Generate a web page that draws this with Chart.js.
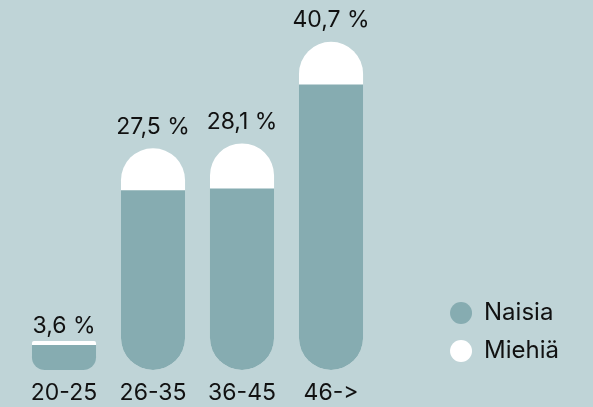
<!DOCTYPE html>
<html>
<head>
<meta charset="utf-8">
<script src="https://cdn.jsdelivr.net/npm/chart.js@4/dist/chart.umd.min.js"></script>
<style>
  html, body { margin: 0; padding: 0; background: #bfd4d7; }
  #wrap { width: 593px; height: 407px; position: relative; }
</style>
</head>
<body>
<div id="wrap"><canvas id="c"></canvas></div>
<script>
const categories = ['20-25', '26-35', '36-45', '46->'];
const naisia = [3.1, 22.3, 22.5, 35.4];
const miehia = [0.5, 5.2, 5.6, 5.3];
const seriesNames = ['Naisia', 'Miehiä'];

// total height of each bar (Naisia + Miehiä), white bar drawn behind the teal one
const totals = naisia.map((v, i) => v + miehia[i]);

const TEAL = '#86acb1';
const TEXT = '#111111';
const FONT = 'Inter';

const totalLabels = {
  id: 'totalLabels',
  afterDatasetsDraw(chart) {
    const ctx = chart.ctx;
    const top = chart.getDatasetMeta(1);
    ctx.save();
    ctx.font = `400 23px ${FONT}`;
    ctx.fillStyle = TEXT;
    ctx.textAlign = 'center';
    ctx.textBaseline = 'middle';
    top.data.forEach((bar, i) => {
      const h = bar.base - bar.y;
      const off = h < 40 ? 14.5 : 21.5;
      ctx.fillText(totals[i].toFixed(1).replace('.', ',') + ' %', bar.x, bar.y - off);
    });
    ctx.restore();
  }
};

new Chart(document.getElementById('c'), {
  type: 'bar',
  data: {
    labels: categories,
    datasets: [
      {
        label: seriesNames[0],
        data: naisia,
        order: 0,
        backgroundColor: TEAL,
        borderWidth: 0,
        borderSkipped: false,
        borderRadius: { topLeft: 0, topRight: 0, bottomLeft: 32, bottomRight: 32 },
        pointStyle: 'circle'
      },
      {
        label: seriesNames[1],
        data: totals,
        order: 1,
        backgroundColor: '#ffffff',
        borderWidth: 0,
        borderSkipped: false,
        borderRadius: (c) => {
          const r = totals[c.dataIndex] > 10 ? 32 : 2;
          return { topLeft: r, topRight: r, bottomLeft: 32, bottomRight: 32 };
        },
        pointStyle: 'circle'
      }
    ]
  },
  options: {
    responsive: true,
    maintainAspectRatio: false,
    animation: false,
    layout: { padding: { left: 19.5, right: 24, top: 0, bottom: 0 } },
    datasets: { bar: { categoryPercentage: 1, barPercentage: 0.72, grouped: false } },
    scales: {
      x: {
        grid: { display: false, drawTicks: false },
        border: { display: false },
        ticks: {
          color: TEXT,
          font: { family: FONT, size: 23 },
          padding: 2.2,
          maxRotation: 0,
          // ZWNJ keeps the font from turning "->" into an arrow glyph
          callback: (v, i) => categories[i].replace('->', '-\u200C>')
        },
        afterFit: (s) => { s.height = 30; }
      },
      y: {
        position: 'right',
        min: -0.87,
        max: 45.88,
        grid: { display: false, drawTicks: false },
        border: { display: false },
        ticks: { display: false },
        afterFit: (s) => { s.width = 60.5; }
      }
    },
    plugins: {
      legend: {
        position: 'right',
        align: 'end',
        fullSize: false,
        labels: {
          usePointStyle: true,
          boxHeight: 15.56,
          pointStyleWidth: 22,
          padding: 14,
          color: TEXT,
          font: { family: FONT, size: 24 }
        }
      },
      tooltip: { enabled: false }
    }
  },
  plugins: [totalLabels]
});
</script>
</body>
</html>
